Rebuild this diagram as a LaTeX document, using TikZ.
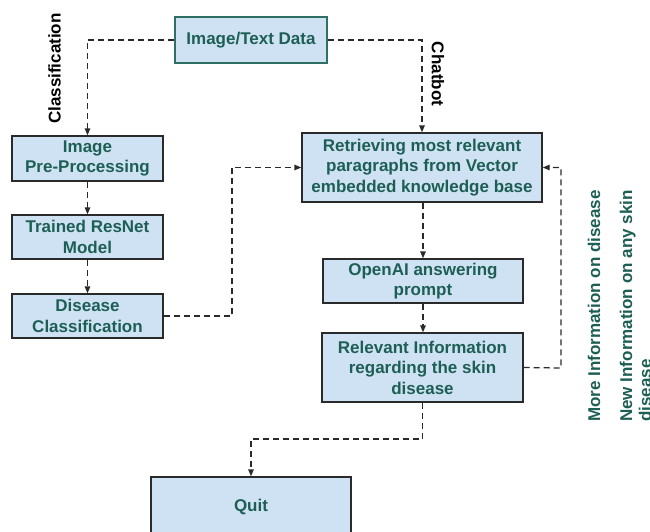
\documentclass[tikz,border=0pt]{standalone}
\usepackage{fontspec}
\setmainfont{Liberation Sans}
\usetikzlibrary{arrows.meta}
\definecolor{boxfill}{HTML}{CFE2F3}
\definecolor{txtgreen}{HTML}{1E5F55}
\definecolor{topborder}{HTML}{2F6F64}
\definecolor{linegray}{HTML}{2A2A2A}
\tikzset{
  procbox/.style={draw=linegray, line width=1.3pt, fill=boxfill, text=txtgreen,
    font=\fontsize{17}{20.5}\selectfont\bfseries, align=center, inner sep=0pt},
  conn/.style={draw=linegray, line width=1.3pt, dash pattern=on 6pt off 4pt},
  arr/.style={conn, -{Triangle[length=7pt,width=5.5pt]}},
  sidelabel/.style={font=\fontsize{17}{19}\selectfont\bfseries, inner sep=0pt},
}
\begin{document}
\begin{tikzpicture}[x=1pt,y=-1pt]
\useasboundingbox (0,0) rectangle (650,531);
% boxes
\node[procbox, draw=topborder, minimum width=152pt, minimum height=46pt] (data) at (251,40) {Image/Text Data};
\node[procbox, minimum width=151pt, minimum height=45pt] (pre) at (87.5,158.5) {Image\\Pre-Processing};
\node[procbox, minimum width=151pt, minimum height=44pt] (resnet) at (87.5,237) {Trained ResNet\\Model};
\node[procbox, minimum width=151pt, minimum height=44pt] (cls) at (87.5,316) {Disease\\Classification};
\node[procbox, minimum width=240pt, minimum height=69pt] (ret) at (422,167.5) {Retrieving most relevant\\paragraphs from Vector\\embedded knowledge base};
\node[procbox, minimum width=200pt, minimum height=44pt] (openai) at (423,281) {OpenAI answering\\prompt};
\node[procbox, minimum width=201pt, minimum height=69pt] (rel) at (422.5,367.5) {Relevant Information\\regarding the skin\\disease};
\node[procbox, minimum width=200pt, minimum height=60pt] (quit) at (251,507) {Quit};
% helper coordinates
\coordinate (clsturn) at (232,316);
\coordinate (fbturn) at (561,368);
\coordinate (quitturn) at (422.5,439);
% connectors
\draw[arr] (data.west) -| (pre.north);
\draw[arr] (data.east) -| (ret.north);
\draw[arr] (pre.south) -- (resnet.north);
\draw[arr] (resnet.south) -- (cls.north);
\draw[arr] (cls.east) -- (clsturn) |- (ret.west);
\draw[arr] (ret.south -| openai.north) -- (openai.north);
\draw[arr] (openai.south) -- (openai.south |- rel.north);
\draw[arr] (rel.east) -- (fbturn) |- (ret.east);
\draw[arr] (rel.south) -- (quitturn) -| (quit.north);
% labels
\node[sidelabel, rotate=90] (lcls) at (54.5,68.5) {Classification};
\node[sidelabel, rotate=-90] (lchat) at (438,74) {Chatbot};
\node[sidelabel, text=txtgreen, rotate=90, anchor=base west] (lmore) at (600,422) {More Information on disease};
\node[sidelabel, text=txtgreen, rotate=90, anchor=base west, align=left] (lnew) at (651,422) {New Information on any skin\\disease};
\end{tikzpicture}
\end{document}
